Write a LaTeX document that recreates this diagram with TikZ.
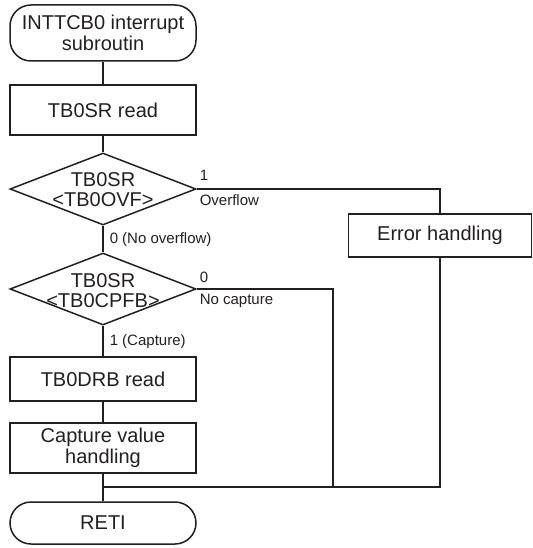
\documentclass[tikz,border=0pt]{standalone}
\usepackage{fontspec}
\setmainfont{Liberation Sans}
\usetikzlibrary{shapes.geometric}
\definecolor{ink}{HTML}{231F20}
\begin{document}
\begin{tikzpicture}[x=1pt,y=-1pt,
  line width=1.5pt, color=ink,
  every node/.style={font=\fontsize{20}{21}\selectfont, align=center, inner sep=0pt, text=ink},
  procbox/.style={draw=ink, rectangle, minimum width=186pt},
  termbox/.style={draw=ink, rectangle, rounded corners=21pt, minimum width=186pt},
  decbox/.style={draw=ink, diamond, minimum width=186pt, minimum height=72pt},
  dectext/.style={font=\fontsize{20}{20}\selectfont},
  lbl/.style={font=\fontsize{15}{16}\selectfont, anchor=west},
  conn/.style={draw=ink, line width=1.5pt}]
\useasboundingbox (0,0) rectangle (532,548);

\node[termbox, minimum height=56pt] (start) at (103,33) {INTTCB0 interrupt\\subroutin};
\node[procbox, minimum height=50pt] (read) at (103,110) {TB0SR read};
\node[decbox] (d1) at (103,189) {};
\node[dectext] (d1t) at (103,190) {TB0SR\\\textless TB0OVF\textgreater};
\node[decbox] (d2) at (103,289) {};
\node[dectext] (d2t) at (103,291) {TB0SR\\\textless TB0CPFB\textgreater};
\node[procbox, minimum height=44pt] (drb) at (103,379) {TB0DRB read};
\node[procbox, minimum height=50pt] (cap) at (103,448) {Capture value\\handling};
\node[termbox, minimum height=42pt] (reti) at (103,523) {RETI};
\node[procbox, minimum width=183pt, minimum height=43pt] (err) at (440,235.5) {Error handling};

\coordinate (j) at (103,487);
\coordinate (jn) at (333,487);

\draw[conn] (start) -- (read);
\draw[conn] (read) -- (d1);
\draw[conn] (d1) -- (d2);
\draw[conn] (d2) -- (drb);
\draw[conn] (drb) -- (cap);
\draw[conn] (cap) -- (reti);
\draw[conn] (d1.east) -| (err.north);
\draw[conn] (d2.east) -| (jn);
\draw[conn] (err.south) |- (j);

\node[lbl] (l1) at (199,175) {1};
\node[lbl] (l2) at (199,200) {Overflow};
\node[lbl] (l3) at (109,240) {0 (No overflow)};
\node[lbl] (l4) at (199,277) {0};
\node[lbl] (l5) at (199,301) {No capture};
\node[lbl] (l6) at (109,342) {1 (Capture)};
\end{tikzpicture}
\end{document}
